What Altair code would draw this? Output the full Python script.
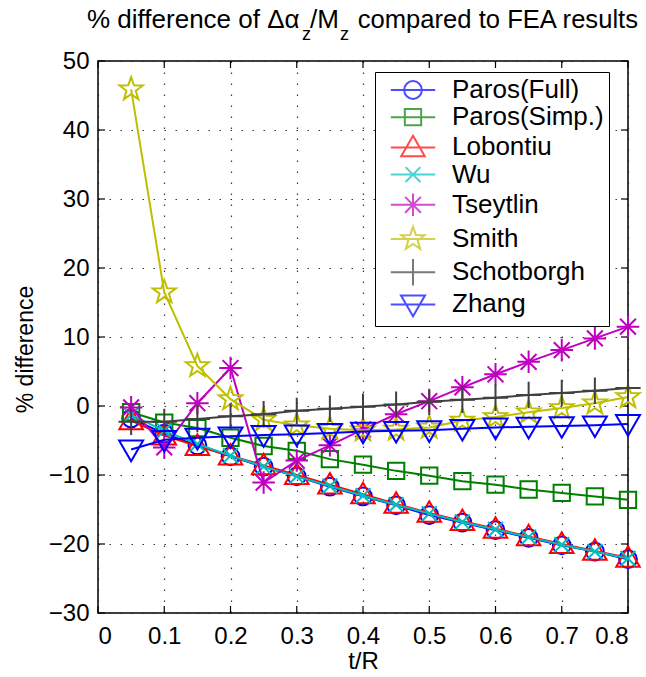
import math
import altair as alt
import pandas as pd

# ---------------- data ----------------
t_over_R = [0.05, 0.10, 0.15, 0.20, 0.25, 0.30, 0.35, 0.40,
            0.45, 0.50, 0.55, 0.60, 0.65, 0.70, 0.75, 0.80]

series_names = ["Paros(Full)", "Paros(Simp.)", "Lobontiu", "Wu",
                "Tseytlin", "Smith", "Schotborgh", "Zhang"]

paros_full = [-1.8, -4.0, -5.7, -7.3, -8.8, -10.2, -11.7, -13.1,
              -14.4, -15.8, -16.9, -18.0, -19.1, -20.2, -21.1, -22.2]
paros_simp = [-0.9, -2.4, -3.2, -4.6, -5.8, -6.5, -7.7, -8.5,
              -9.4, -10.1, -10.9, -11.4, -12.1, -12.6, -13.1, -13.6]
lobontiu = [-2.1, -4.3, -5.8, -7.2, -8.6, -10.0, -11.4, -12.8,
            -14.2, -15.5, -16.7, -17.8, -18.9, -20.0, -21.0, -22.0]
wu = [-1.3, -3.6, -5.5, -7.2, -8.8, -10.2, -11.6, -13.0,
      -14.3, -15.6, -16.8, -17.9, -19.0, -20.1, -21.1, -22.1]
tseytlin = [-0.2, -6.0, 0.4, 5.5, -11.1, -7.9, -5.7, -3.4,
            -1.2, 0.7, 2.7, 4.6, 6.4, 8.1, 9.8, 11.5]
smith = [45.9, 16.5, 5.8, 1.0, -2.0, -2.8, -3.3, -3.5,
         -3.4, -3.1, -2.1, -1.6, -0.9, -0.3, 0.4, 1.3]
schotborgh = [-2.3, -2.3, -1.9, -1.5, -1.2, -0.7, -0.4, -0.1,
              0.2, 0.6, 0.9, 1.2, 1.6, 1.9, 2.2, 2.6]
zhang = [-6.3, -4.9, -4.6, -4.4, -4.2, -4.1, -3.9, -3.7,
         -3.6, -3.5, -3.3, -3.1, -3.0, -2.9, -2.8, -2.6]

x_ticks = [0, 0.1, 0.2, 0.3, 0.4, 0.5, 0.6, 0.7, 0.8]
y_ticks = [-30, -20, -10, 0, 10, 20, 30, 40, 50]

all_values = [paros_full, paros_simp, lobontiu, wu, tseytlin, smith, schotborgh, zhang]

colors = ["#0000ff", "#008000", "#ff0000", "#00bfbf",
          "#bf00bf", "#bfbf00", "#404040", "#0000ff"]

# ---------------- marker paths (unit square, scaled by sqrt(size)/2) ----------------
def star_path(ro=1.0, ri=0.4):
    pts = []
    for k in range(10):
        ang = math.radians(-90 + 36 * k)
        r = ro if k % 2 == 0 else ri
        pts.append((r * math.cos(ang), r * math.sin(ang)))
    return "M" + "L".join(f"{px:.3f},{py:.3f}" for px, py in pts) + "Z"

marker_paths = [
    "M0.74,0A0.74,0.74 0 1,1 -0.74,0A0.74,0.74 0 1,1 0.74,0Z",          # circle
    "M-0.68,-0.68L0.68,-0.68L0.68,0.68L-0.68,0.68Z",                    # square
    "M0,-0.97L0.98,0.74L-0.98,0.74Z",                                     # triangle up
    "M-0.62,-0.62L0.62,0.62M-0.62,0.62L0.62,-0.62",                       # x
    "M-0.94,0L0.94,0M0,-0.94L0,0.94M-0.66,-0.66L0.66,0.66M-0.66,0.66L0.66,-0.66",  # asterisk
    star_path(1.02, 0.41),                                                 # pentagram
    "M-1.05,0L1.05,0M0,-1.1L0,1.1",                                       # plus
    "M-1.0,-0.74L1.0,-0.74L0,0.98Z",                                      # triangle down
]
legend_paths = [p + "M-1.85,0L1.85,0" for p in marker_paths]

rows = []
for name, vals in zip(series_names, all_values):
    for xv, yv in zip(t_over_R, vals):
        rows.append({"series": name, "x": xv, "v": yv})
df = pd.DataFrame(rows)

FONT = "Liberation Sans"
MSIZE = 576

x_scale = alt.Scale(domain=[0, 0.8], nice=False, zero=False)
y_scale = alt.Scale(domain=[-30, 50], nice=False, zero=False)

x_axis = alt.Axis(values=x_ticks, format="~g", title="t/R", grid=True,
                  titleX=265, titleY=48, titleBaseline="middle", labelPadding=11)
y_axis = alt.Axis(values=y_ticks, format="d", title="% difference", grid=True,
                  titleX=-73, titleY=288, titleBaseline="middle", titleAngle=-90,
                  titleFontSize=23)

base = alt.Chart(df)
layers = []
for name, col, mp in zip(series_names, colors, marker_paths):
    sub = base.transform_filter(alt.datum.series == name)
    enc = dict(x=alt.X("x:Q", scale=x_scale, axis=x_axis),
               y=alt.Y("v:Q", scale=y_scale, axis=y_axis))
    layers.append(sub.mark_line(color=col, strokeWidth=2).encode(**enc))
    layers.append(sub.mark_point(color=col, shape=mp, size=MSIZE, filled=False,
                                 strokeWidth=2, opacity=1).encode(**enc))

# legend layer (no visible data)
leg = alt.Legend(title=None, labelExpr="datum.label + '\u00a0\u00a0\u00a0'")
legend_layer = base.transform_filter("false").mark_point(filled=False, strokeWidth=2).encode(
    x=alt.X("x:Q", scale=x_scale, axis=x_axis),
    y=alt.Y("v:Q", scale=y_scale, axis=y_axis),
    color=alt.Color("series:N", scale=alt.Scale(domain=series_names, range=colors),
                    legend=leg),
    shape=alt.Shape("series:N", scale=alt.Scale(domain=series_names, range=legend_paths),
                    legend=leg),
)

# inward ticks (MATLAB box style)
xt = alt.Chart(pd.DataFrame({"t": x_ticks}))
yt = alt.Chart(pd.DataFrame({"t": y_ticks}))
tick_layers = [
    xt.mark_rule(color="black", strokeWidth=1.2).encode(
        x=alt.X("t:Q", scale=x_scale, axis=x_axis), y=alt.value(552), y2=alt.value(545)),
    xt.mark_rule(color="black", strokeWidth=1.2).encode(
        x=alt.X("t:Q", scale=x_scale, axis=x_axis), y=alt.value(0), y2=alt.value(7)),
    yt.mark_rule(color="black", strokeWidth=1.2).encode(
        y=alt.Y("t:Q", scale=y_scale, axis=y_axis), x=alt.value(0), x2=alt.value(7)),
    yt.mark_rule(color="black", strokeWidth=1.2).encode(
        y=alt.Y("t:Q", scale=y_scale, axis=y_axis), x=alt.value(530), x2=alt.value(523)),
]

# title pieces (with subscripts)
one = alt.Chart(pd.DataFrame({"k": [0]}))
def ttext(txt, x, y, align="left", size=26):
    return one.mark_text(text=txt, align=align, baseline="alphabetic", font=FONT,
                         fontSize=size, color="black").encode(x=alt.value(x), y=alt.value(y))

title_layers = [
    ttext("% difference of \u0394\u03b1", -11, -33),
    ttext("z", 204, -21, size=18),
    ttext("/M", 212, -33),
    ttext("z", 242, -21, size=18),
    ttext("compared to FEA results", 540, -33, align="right", size=25.6),
]

chart = alt.layer(*tick_layers, *layers, legend_layer, *title_layers).properties(
    width=530, height=552,
    autosize=alt.AutoSizeParams(type="none"),
    padding={"left": 98, "top": 61, "right": 18, "bottom": 64},
).configure_view(
    stroke="black", strokeWidth=1.5
).configure_axis(
    labelFont=FONT, labelFontSize=24, labelColor="black",
    titleFont=FONT, titleFontSize=24, titleFontWeight="normal", titleColor="black",
    ticks=False, domain=False, labelPadding=9,
    gridColor="#222222", gridDash=[1.5, 9.5], gridWidth=1.2, gridOpacity=0.9,
).configure_legend(
    orient="none", legendX=277, legendY=11,
    labelFont=FONT, labelFontSize=26, labelColor="black",
    symbolSize=MSIZE, symbolStrokeWidth=2, symbolOffset=20,
    labelOffset=26, rowPadding=1.2, padding=5,
    strokeColor="black", fillColor="white", cornerRadius=0,
)

chart.save("out.html", embed_options={"renderer": "svg", "actions": False})
